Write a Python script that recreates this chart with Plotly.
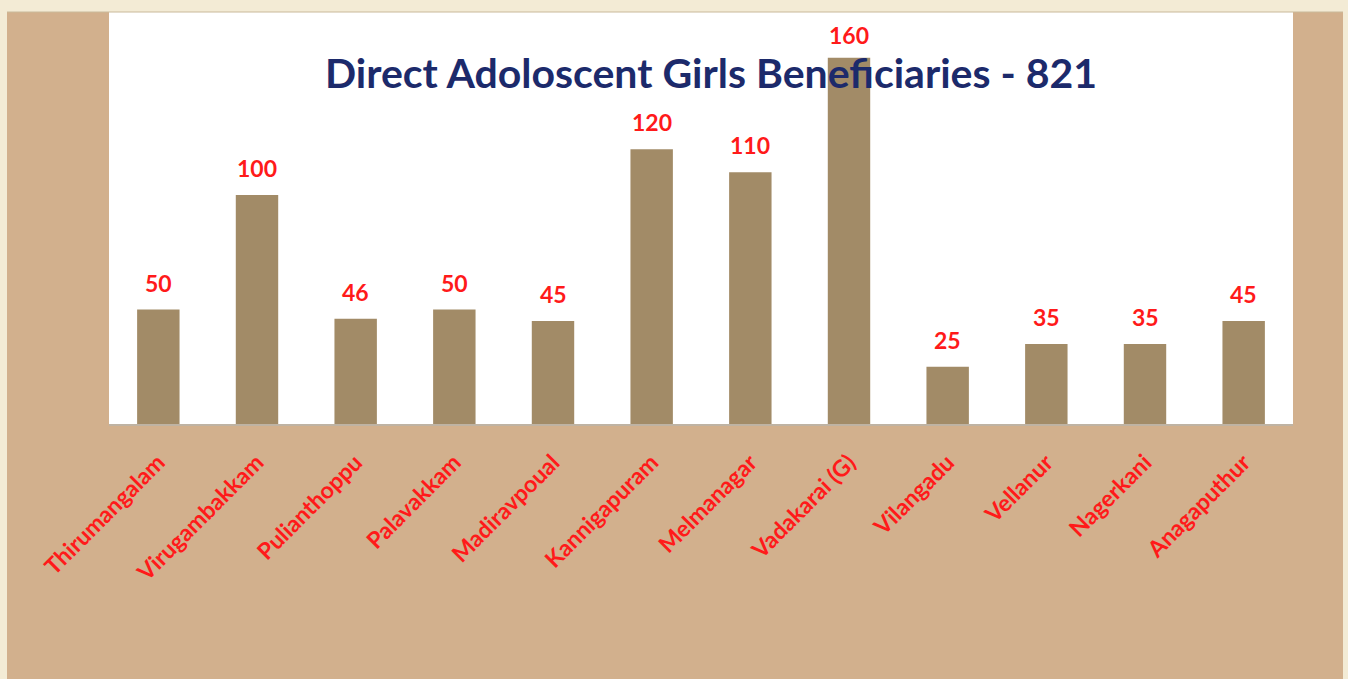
import plotly.graph_objects as go

villages = ["Thirumangalam", "Virugambakkam", "Pulianthoppu", "Palavakkam", "Madiravpoual",
            "Kannigapuram", "Melmanagar", "Vadakarai (G)", "Vilangadu", "Vellanur",
            "Nagerkani", "Anagaputhur"]
girls = [50, 100, 46, 50, 45, 120, 110, 160, 25, 35, 35, 45]
title_text = "Direct Adoloscent Girls Beneficiaries - 821"

W, H = 1348, 679
L, R, T, B = 109, 55, 12, 255
pw, ph = W - L - R, H - T - B

def px_x(x):
    return (x - L) / pw

def px_y(y):
    return (H - B - y) / ph

fig = go.Figure()
fig.add_trace(go.Bar(
    x=villages, y=girls, width=0.43,
    marker=dict(color="#a28b67", line=dict(width=0)),
    hoverinfo="x+y",
))

for v, g in zip(villages, girls):
    fig.add_annotation(
        x=v, y=g, text=str(g), showarrow=False, xanchor="center", yanchor="middle",
        yshift=27 if g < 150 else 23,
        font=dict(family="Lato", size=23, color="#ff1a1a", weight="bold"),
    )

cream = "#f3ebd5"
shapes = [
    dict(type="rect", xref="paper", yref="paper", x0=px_x(0), x1=px_x(W), y0=px_y(12), y1=px_y(0),
         fillcolor=cream, line=dict(width=0), layer="below"),
    dict(type="rect", xref="paper", yref="paper", x0=px_x(0), x1=px_x(7), y0=px_y(H), y1=px_y(0),
         fillcolor=cream, line=dict(width=0), layer="below"),
    dict(type="rect", xref="paper", yref="paper", x0=px_x(1343), x1=px_x(W), y0=px_y(H), y1=px_y(0),
         fillcolor=cream, line=dict(width=0), layer="below"),
    dict(type="line", xref="paper", yref="paper", x0=px_x(7), x1=px_x(1343), y0=px_y(12), y1=px_y(12),
         line=dict(color="#c9b99a", width=1)),
]

fig.add_annotation(
    text=title_text, xref="paper", yref="paper", x=px_x(711), y=px_y(72),
    showarrow=False, xanchor="center", yanchor="middle",
    font=dict(family="Lato", size=41, color="#1c2a6b", weight="bold"),
)

fig.update_layout(
    width=W, height=H,
    margin=dict(l=L, r=R, t=T, b=B, autoexpand=False),
    paper_bgcolor="#d2b08d", plot_bgcolor="#ffffff",
    showlegend=False, shapes=shapes, bargap=0.57,
    xaxis=dict(tickangle=-45, showgrid=False, ticks="", showline=True,
               linecolor="#bfb3a3", linewidth=2, ticklabelstandoff=14,
               tickfont=dict(family="Lato", size=23, color="#ff1a1a", weight="bold")),
    yaxis=dict(range=[0, 180], showgrid=False, showticklabels=False, zeroline=False, ticks=""),
)

fig.write_html("out.html", config={"displayModeBar": False})
with open("out.html") as f:
    html = f.read()
html = html.replace("<head>", "<head><style>body{margin:0;padding:0;}</style>", 1)
with open("out.html", "w") as f:
    f.write(html)
